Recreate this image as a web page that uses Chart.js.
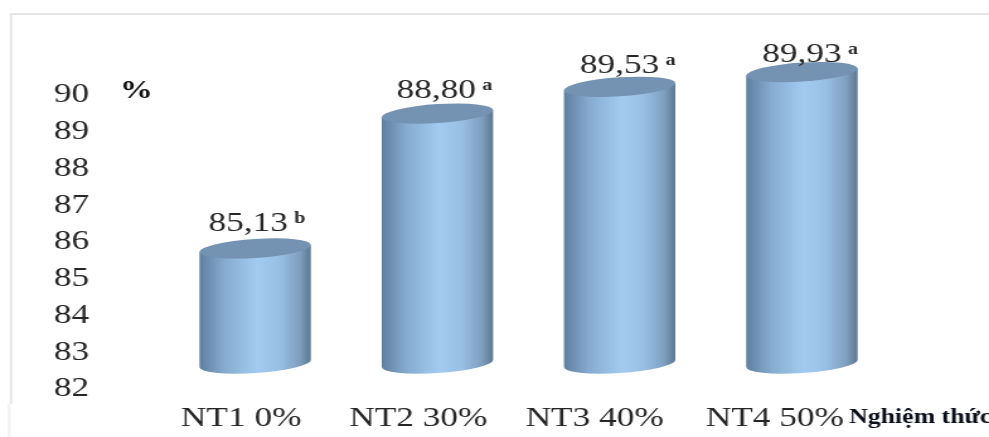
<!DOCTYPE html>
<html lang="vi">
<head>
<meta charset="utf-8">
<title>Nghiệm thức</title>
<script src="https://cdn.jsdelivr.net/npm/chart.js@4"></script>
<style>
  html, body { margin: 0; padding: 0; background: #fff; overflow: hidden; width: 989px; height: 437px; }
  /* The drawing is laid out on a narrower canvas and widened, giving the broad letterforms and cylinders. */
  #chart { display: block; position: absolute; left: 0; top: 0; transform-origin: 0 0; }
</style>
</head>
<body>
<canvas id="chart" width="785" height="437"></canvas>
<script>
const categories = ['NT1 0%', 'NT2 30%', 'NT3 40%', 'NT4 50%'];
const values = [85.13, 88.80, 89.53, 89.93];
const significance = ['b', 'a', 'a', 'a'];
const yMin = 82;
const yMax = 90;

const CANVAS_W = 785;
const CANVAS_H = 437;
const STRETCH = 989 / CANVAS_W;
const SERIF = '"Liberation Serif", "Times New Roman", serif';
const PLOT_TOP = 69.5;
const PLOT_BOTTOM = 363.5;

// Small per-column adjustments, in page pixels.
const valueLift = [25, 23, 21, 17];
const valueNudge = [-7, -1, 0, 0];
const categoryNudge = [-14, -19, -25, -27];

const canvas = document.getElementById('chart');
canvas.style.transform = 'scaleX(' + STRETCH + ')';

const cylinders = {
  id: 'cylinders',
  // Pin the plot's vertical extent so it does not depend on label sizes.
  afterLayout(chart) {
    const { x, y } = chart.scales;
    y.top = PLOT_TOP;
    y.bottom = PLOT_BOTTOM;
    y.height = PLOT_BOTTOM - PLOT_TOP;
    y.configure();
    x.top = PLOT_BOTTOM;
    x.bottom = CANVAS_H;
    x.height = CANVAS_H - PLOT_BOTTOM;
    chart.chartArea.top = PLOT_TOP;
    chart.chartArea.bottom = PLOT_BOTTOM;
    chart.chartArea.height = PLOT_BOTTOM - PLOT_TOP;
  },
  afterDatasetsDraw(chart) {
    const ctx = chart.ctx;
    const bars = chart.getDatasetMeta(0).data;
    bars.forEach((bar) => {
      const rx = bar.width / 2;
      const ry = 9.5;
      const h = bar.base - bar.y;
      const grad = ctx.createLinearGradient(-rx, 0, rx, 0);
      grad.addColorStop(0, '#5f7f9f');
      grad.addColorStop(0.22, '#86abcf');
      grad.addColorStop(0.52, '#a3cbf1');
      grad.addColorStop(0.72, '#98bfe3');
      grad.addColorStop(0.9, '#7f9fbf');
      grad.addColorStop(1, '#5b7891');

      ctx.save();
      ctx.translate(bar.x, bar.base);
      ctx.transform(1, -7 * STRETCH / 110, 0, 1, 0, 0);

      ctx.beginPath();
      ctx.ellipse(0, 0, rx, ry, 0, Math.PI, 0, true);
      ctx.lineTo(rx, -h);
      ctx.lineTo(-rx, -h);
      ctx.closePath();
      ctx.fillStyle = grad;
      ctx.fill();

      ctx.beginPath();
      ctx.ellipse(0, -h, rx, ry, 0, 0, Math.PI * 2);
      ctx.fillStyle = '#7492b2';
      ctx.fill();
      ctx.restore();
    });
  },
  afterDraw(chart) {
    const ctx = chart.ctx;
    const bars = chart.getDatasetMeta(0).data;
    ctx.save();

    // Thin frame along the top and left of the figure.
    ctx.strokeStyle = '#e6e6e6';
    ctx.lineWidth = 2;
    ctx.beginPath();
    ctx.moveTo(CANVAS_W, 14);
    ctx.lineTo(11 / STRETCH, 14);
    ctx.lineTo(11 / STRETCH, 404);
    ctx.stroke();
    ctx.strokeStyle = '#f1f1f1';
    ctx.beginPath();
    ctx.moveTo(9 / STRETCH, 404);
    ctx.lineTo(9 / STRETCH, CANVAS_H);
    ctx.stroke();

    // Value labels with their significance letters.
    ctx.textBaseline = 'middle';
    bars.forEach((bar, i) => {
      const text = values[i].toFixed(2).replace('.', ',');
      const x = bar.x + valueNudge[i] / STRETCH;
      const y = bar.y - valueLift[i];
      ctx.font = '28px ' + SERIF;
      ctx.fillStyle = '#262626';
      ctx.textAlign = 'center';
      ctx.fillText(text, x, y);
      const half = ctx.measureText(text).width / 2;
      ctx.font = 'bold 16px ' + SERIF;
      ctx.textAlign = 'left';
      ctx.fillText(significance[i], x + half + 5, y - 5);
    });

    // Axis captions.
    ctx.fillStyle = '#111';
    ctx.textAlign = 'left';
    ctx.font = 'bold 26px ' + SERIF;
    ctx.fillText('%', 120 / STRETCH, 91);
    ctx.fillStyle = '#0b0f1a';
    ctx.font = 'bold 20.5px ' + SERIF;
    ctx.fillText('Nghiệm thức', 849 / STRETCH, 418);
    ctx.restore();
  }
};

new Chart(canvas, {
  type: 'bar',
  data: {
    labels: categories,
    datasets: [{
      data: values,
      base: yMin,
      backgroundColor: 'rgba(0,0,0,0)',
      borderWidth: 0,
      barPercentage: 0.632,
      categoryPercentage: 1
    }]
  },
  options: {
    responsive: false,
    animation: false,
    devicePixelRatio: 1,
    layout: { padding: { top: PLOT_TOP, right: CANVAS_W - 893 / STRETCH, bottom: 0, left: 0 } },
    plugins: { legend: { display: false }, tooltip: { enabled: false }, title: { display: false } },
    scales: {
      x: {
        grid: { display: false, drawTicks: false },
        border: { display: false },
        ticks: {
          color: '#262626',
          font: { family: SERIF, size: 28 },
          padding: 38,
          maxRotation: 0,
          autoSkip: false
        },
        afterFit(scale) {
          scale.height = CANVAS_H - PLOT_BOTTOM;
          scale.getPixelForTick = function (i) {
            return this.getPixelForValue(this.ticks[i].value) + categoryNudge[i] / STRETCH;
          };
        }
      },
      y: {
        min: yMin,
        max: yMax,
        grid: { display: false, drawTicks: false },
        border: { display: false },
        ticks: {
          stepSize: 1,
          color: '#262626',
          font: { family: SERIF, size: 28 },
          padding: (164 - 89) / STRETCH,
          labelOffset: 25.5
        },
        afterFit(scale) {
          scale.width = 164 / STRETCH;
        }
      }
    }
  },
  plugins: [cylinders]
});
</script>
</body>
</html>
